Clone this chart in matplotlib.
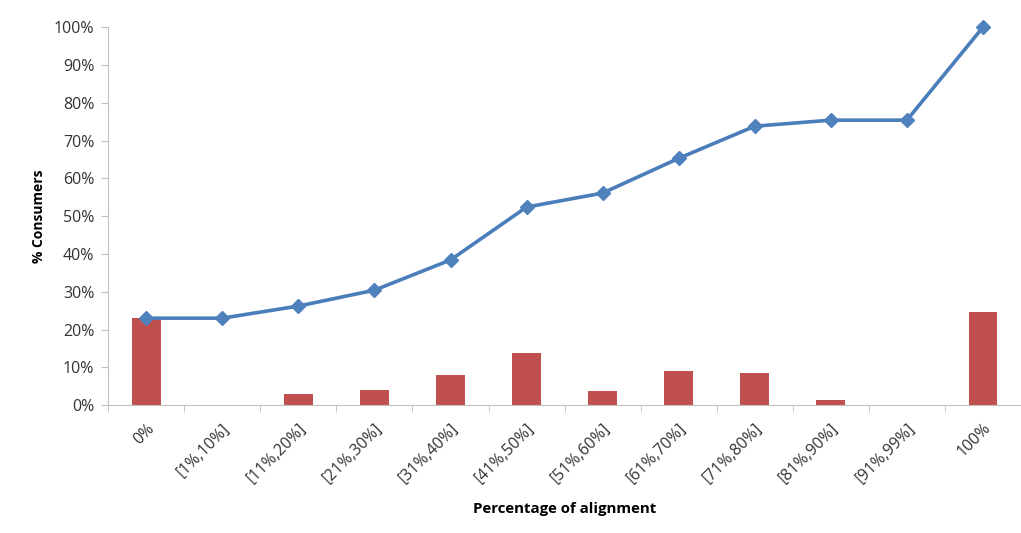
import numpy as np
import matplotlib.pyplot as plt
from matplotlib.ticker import PercentFormatter, FixedLocator

# alignment buckets
categories = ['0%', '[1%,10%]', '[11%,20%]', '[21%,30%]', '[31%,40%]', '[41%,50%]',
              '[51%,60%]', '[61%,70%]', '[71%,80%]', '[81%,90%]', '[91%,99%]', '100%']
# share of consumers in each bucket (%)
share = [23.1, 0.0, 3.0, 4.1, 8.0, 13.9, 3.6, 8.9, 8.5, 1.3, 0.0, 24.6]
# cumulative share of consumers (%)
cumulative = [23.0, 23.0, 26.2, 30.4, 38.4, 52.4, 56.1, 65.3, 73.8, 75.4, 75.4, 100.0]

plt.rcParams['font.family'] = ['Open Sans', 'DejaVu Sans']

fig = plt.figure(figsize=(10.21, 5.33), dpi=100)
ax = fig.add_axes([0.106, 0.24, 0.894, 0.709])

x = np.arange(len(categories))
ax.bar(x, share, width=0.38, color='#C0504D', zorder=2)
ax.plot(x, cumulative, color='#4A7EBB', lw=2.6, marker='D', markersize=7,
        markerfacecolor='#4F81BD', markeredgecolor='#4F81BD', zorder=3, clip_on=False)

ax.set_xlim(-0.5, len(categories) - 0.5)
ax.set_ylim(0, 100)
ax.set_yticks(np.arange(0, 101, 10))
ax.yaxis.set_major_formatter(PercentFormatter(decimals=0))

ax.set_xticks(x)
ax.set_xticklabels(categories, rotation=45, ha='right', rotation_mode='anchor')
ax.xaxis.set_minor_locator(FixedLocator(np.arange(-0.5, len(categories), 1.0)))
ax.tick_params(axis='x', which='major', length=0, pad=11, labelsize=11.5, colors='#333333')
ax.tick_params(axis='x', which='minor', length=5, color='#BFBFBF')
ax.tick_params(axis='y', length=5, color='#BFBFBF', labelsize=11.5, labelcolor='#333333', pad=5)

for side in ['top', 'right']:
    ax.spines[side].set_visible(False)
for side in ['left', 'bottom']:
    ax.spines[side].set_color('#BFBFBF')

ax.set_ylabel('% Consumers', fontsize=10, fontweight='bold', labelpad=6)
ax.set_xlabel('Percentage of alignment', fontsize=10.8, fontweight='bold', labelpad=11)

fig.savefig('out.png', dpi=100)
